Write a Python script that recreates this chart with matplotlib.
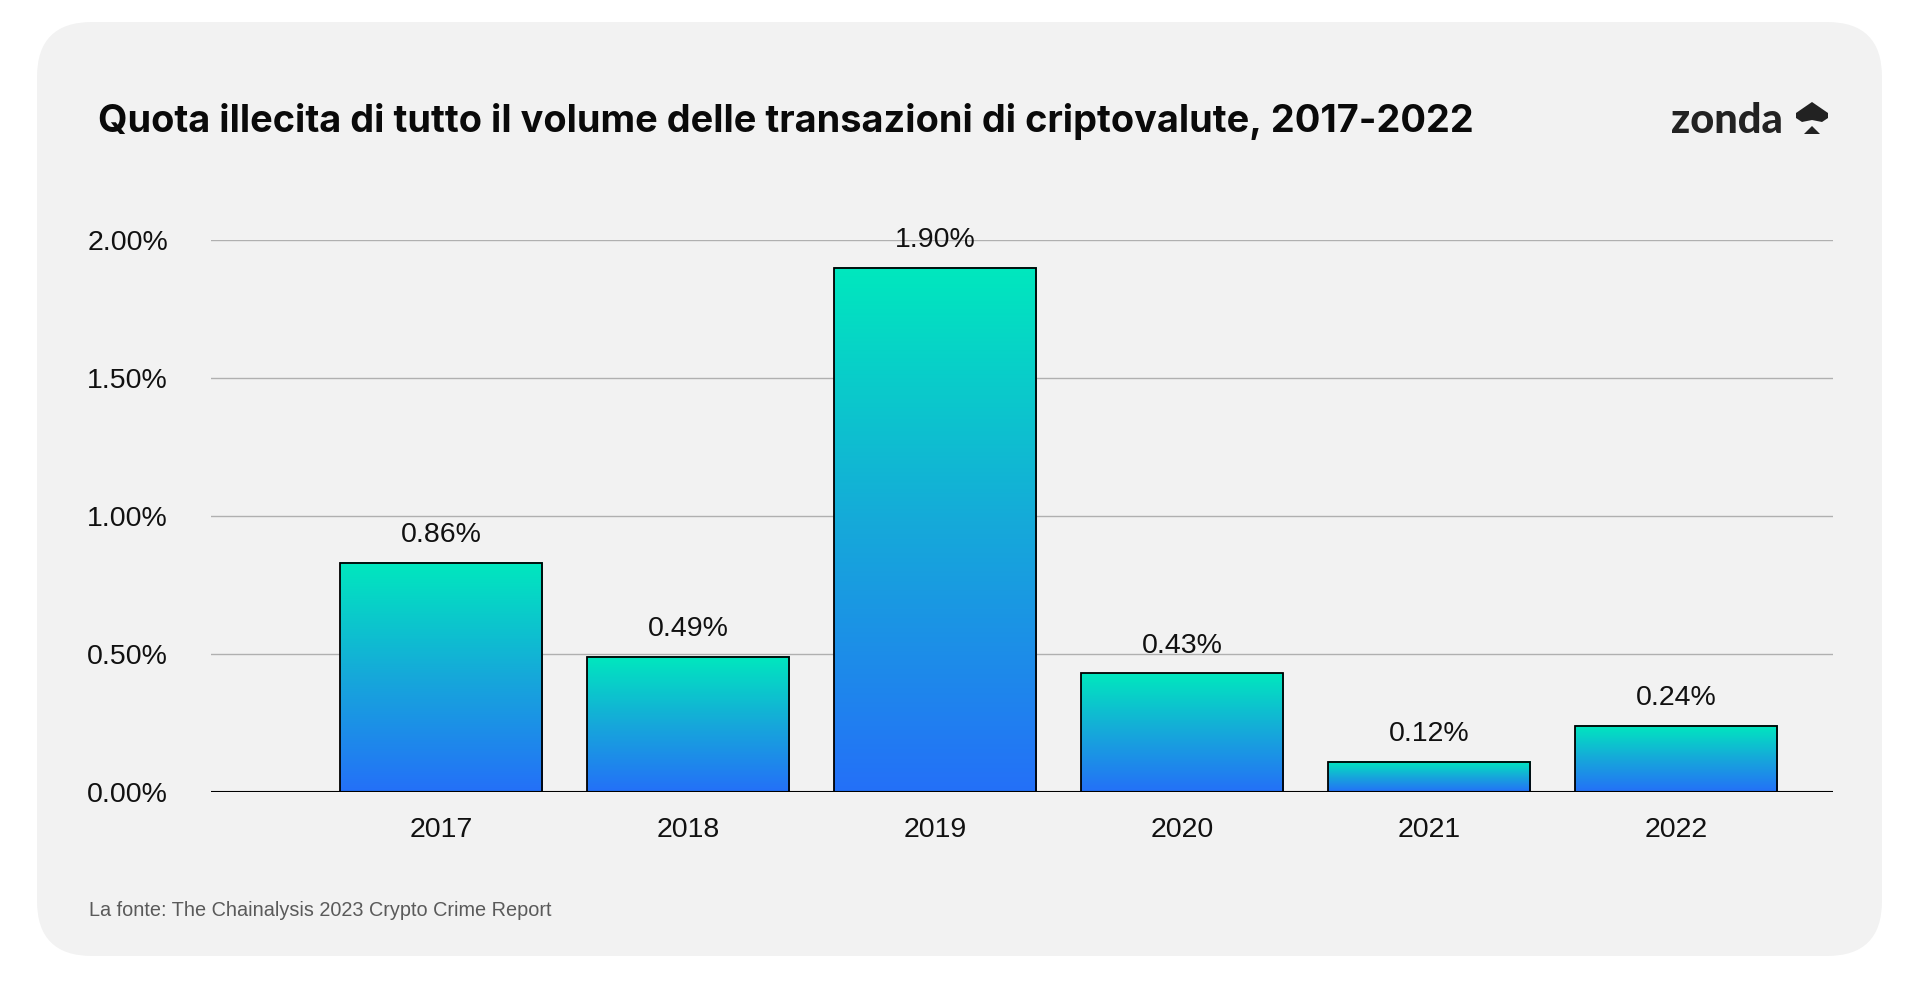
import matplotlib.pyplot as plt
import matplotlib.transforms as mtransforms
from matplotlib.patches import FancyBboxPatch, Polygon
from matplotlib.colors import LinearSegmentedColormap
import numpy as np

# --- data ---
years = ['2017', '2018', '2019', '2020', '2021', '2022']
share = [0.83, 0.49, 1.90, 0.43, 0.11, 0.24]          # bar heights as drawn (%)
share_labels = ['0.86%', '0.49%', '1.90%', '0.43%', '0.12%', '0.24%']
yticks = [0.0, 0.5, 1.0, 1.5, 2.0]
ytick_labels = ['0.00%', '0.50%', '1.00%', '1.50%', '2.00%']

title = 'Quota illecita di tutto il volume delle transazioni di criptovalute, 2017-2022'
source = 'La fonte: The Chainalysis 2023 Crypto Crime Report'

W, H = 1920, 981
fig = plt.figure(figsize=(W / 100, H / 100), dpi=100)
fig.patch.set_facecolor('white')

# rounded card (pixel coords, origin bottom-left)
card = FancyBboxPatch((37, H - 956), 1882 - 37, 956 - 22,
                      boxstyle='round,pad=0,rounding_size=55',
                      transform=mtransforms.IdentityTransform(),
                      facecolor='#f2f2f2', edgecolor='none', zorder=-5)
fig.patches.append(card)

def fx(px):
    return px / W

def fy(py):
    return 1 - py / H

ax = fig.add_axes([fx(211), fy(792), fx(1833) - fx(211), fy(240) - fy(792)])
ax.set_facecolor('none')
ax.set_zorder(2)

x = np.arange(len(years))
bar_w = 0.818
cmap = LinearSegmentedColormap.from_list('grad', ['#2470f8', '#16a8da', '#00e8be'])
grad = np.linspace(0, 1, 256).reshape(-1, 1)

bars = ax.bar(x, share, width=bar_w, facecolor='none', edgecolor='black',
              linewidth=1.3, zorder=4)
for b, lab in zip(bars, share_labels):
    x0, h = b.get_x(), b.get_height()
    ax.imshow(grad, cmap=cmap, origin='lower', aspect='auto',
              extent=[x0, x0 + b.get_width(), 0, h], zorder=3)
    ax.annotate(lab, (x0 + b.get_width() / 2, h), xytext=(0, 20),
                textcoords='offset points', ha='center', va='center',
                fontsize=20.5, family='Liberation Sans', color='#111111',
                annotation_clip=False)

ax.set_xlim(-0.931, 5.636)
ax.set_ylim(0, 2.0)
ax.set_yticks(yticks)
ax.set_yticklabels(ytick_labels)
ax.set_xticks(x)
ax.set_xticklabels(years)
for s in ax.spines.values():
    s.set_visible(False)
ax.tick_params(axis='both', length=0, labelsize=20.5, colors='#111111')
ax.tick_params(axis='y', pad=31)
ax.tick_params(axis='x', pad=18)
for t in ax.get_xticklabels() + ax.get_yticklabels():
    t.set_family('Liberation Sans')
ax.grid(axis='y', color='#b0b0b0', linewidth=1.0, zorder=1)
ax.set_axisbelow(True)
ax.axhline(0, color='black', linewidth=1.5, zorder=5)

# title and source
fig.text(fx(98), fy(122), title, ha='left', va='center', fontsize=27.3,
         fontweight='bold', family='Inter', color='#0a0a0a')
fig.text(fx(89), fy(911), source, ha='left', va='center', fontsize=14.3,
         family='Liberation Sans', color='#5a5a5a')

# logo
fig.text(fx(1671), fy(121), 'zonda', ha='left', va='center', fontsize=30,
         fontweight='black', family='Lato', color='#222222')
top_pts = [(1812, 102), (1828, 113), (1828, 118), (1822, 122), (1812, 120),
           (1802, 122), (1796, 118), (1796, 113)]
bot_pts = [(1812, 126), (1820, 134), (1804, 134)]
for pts in (top_pts, bot_pts):
    fig.patches.append(Polygon([(fx(a), fy(b)) for a, b in pts], closed=True,
                               transform=fig.transFigure, facecolor='#222222',
                               edgecolor='none', zorder=2))

fig.savefig('out.png', dpi=100, facecolor=fig.get_facecolor())
